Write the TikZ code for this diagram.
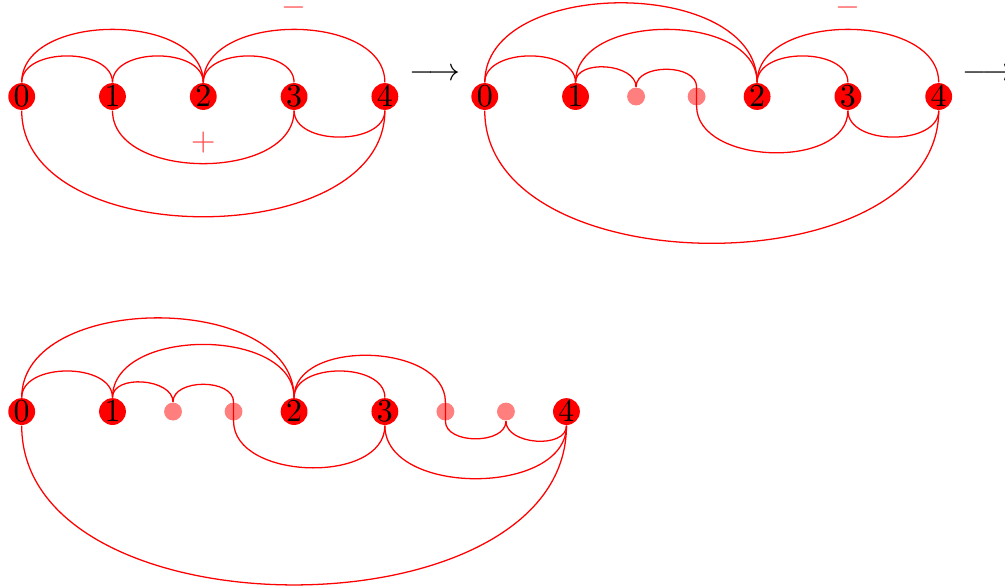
\documentclass[tikz,border=0pt]{standalone}
\usepackage{amsmath,amssymb}
\usepackage{tikz}
\usetikzlibrary{arrows.meta,positioning}

\tikzset{
  vert/.style={circle, fill=red, inner sep=0pt, minimum size=8.4pt},
  ghost/.style={circle, fill=red, fill opacity=0.5, inner sep=0pt, minimum size=5.6pt},
  wire/.style={red},
  sgn/.style={red!70},
}

\begin{document}
\begin{tikzpicture}
    \useasboundingbox (-0.239,-5.413) rectangle (10.83,1.063);

    % TOP LEFT: five vertices
    \begin{scope}
        \foreach \i in {0,...,4} \node[vert] (a\i) at (\i,0) {$\i$};
        % Upper arcs
        \draw[wire] (a0) to[out=90,in=90] (a1);
        \draw[wire] (a0) to[out=90,in=90] (a2);
        \draw[wire] (a1) to[out=90,in=90] (a2);
        \draw[wire] (a2) to[out=90,in=90] (a3);
        \draw[wire] (a2) to[out=90,in=90] (a4);
        % Lower arcs
        \draw[wire] (a1) to[out=-90,in=-90] (a3);
        \draw[wire] (a3) to[out=-90,in=-90] (a4);
        \draw[wire] (a0) to[out=-90,in=-90] (a4);
        % Signs
        \node[sgn] (am) at (3,0.98) {$-$};
        \node[sgn] (ap) at (2,-0.51) {$+$};
        \node (ar1) at (4.55,0.24) {$\longrightarrow$};
    \end{scope}

    % TOP RIGHT: two ghost points between 1 and 2
    \begin{scope}[shift={(5.1,0)}]
        \node[vert] (b0) at (0,0) {$0$};
        \node[vert] (b1) at (1,0) {$1$};
        \node[ghost] (bd1) at ({5/3},0) {};
        \node[ghost] (bd2) at ({7/3},0) {};
        \node[vert] (b2) at (3,0) {$2$};
        \node[vert] (b3) at (4,0) {$3$};
        \node[vert] (b4) at (5,0) {$4$};
        % Upper arcs
        \draw[wire] (b0) to[out=90,in=90] (b1);
        \draw[wire] (b0) to[out=90,in=90] (b2);
        \draw[wire] (b1) to[out=90,in=90] (b2);
        \draw[wire] (b1) to[out=90,in=90] (bd1);
        \draw[wire] (bd1) to[out=90,in=90] (bd2.north) -- (bd2.south) to[out=-90,in=-90] (b3);
        \draw[wire] (b2) to[out=90,in=90] (b3);
        \draw[wire] (b2) to[out=90,in=90] (b4);
        % Lower arcs
        \draw[wire] (b3) to[out=-90,in=-90] (b4);
        \draw[wire] (b0) to[out=-90,in=-90] (b4);
        \node[sgn] (bm) at (4,0.98) {$-$};
        \node (ar2) at (5.55,0.24) {$\longrightarrow$};
    \end{scope}

    % BOTTOM: ghost points between 1 and 2 and between 3 and 4
    \begin{scope}[shift={(0,-3.47)}]
        \node[vert] (c0) at (0,0) {$0$};
        \node[vert] (c1) at (1,0) {$1$};
        \node[ghost] (cd1) at ({5/3},0) {};
        \node[ghost] (cd2) at ({7/3},0) {};
        \node[vert] (c2) at (3,0) {$2$};
        \node[vert] (c3) at (4,0) {$3$};
        \node[ghost] (cd3) at ({14/3},0) {};
        \node[ghost] (cd4) at ({16/3},0) {};
        \node[vert] (c4) at (6,0) {$4$};
        % Upper arcs
        \draw[wire] (c0) to[out=90,in=90] (c1);
        \draw[wire] (c0) to[out=90,in=90] (c2);
        \draw[wire] (c1) to[out=90,in=90] (c2);
        \draw[wire] (c1) to[out=90,in=90] (cd1);
        \draw[wire] (cd1) to[out=90,in=90] (cd2.north) -- (cd2.south) to[out=-90,in=-90] (c3);
        \draw[wire] (c2) to[out=90,in=90] (c3);
        \draw[wire] (c2) to[out=90,in=90] (cd3.north) -- (cd3.south) to[out=-90,in=-90] (cd4);
        % Lower arcs
        \draw[wire] (cd4) to[out=-90,in=-90] (c4);
        \draw[wire] (c3) to[out=-90,in=-90] (c4);
        \draw[wire] (c0) to[out=-90,in=-90] (c4);
    \end{scope}
\end{tikzpicture}
\end{document}
